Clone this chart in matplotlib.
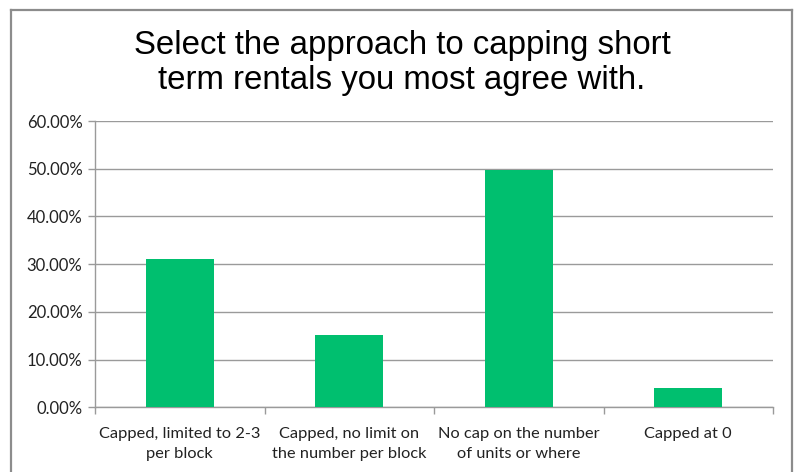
import numpy as np
import matplotlib.pyplot as plt
from matplotlib.lines import Line2D

categories = ["Capped, limited to 2-3\nper block",
              "Capped, no limit on\nthe number per block",
              "No cap on the number\nof units or where",
              "Capped at 0"]
shares = [31.05, 15.1, 49.7, 4.0]
yticks = [0, 10, 20, 30, 40, 50, 60]

W, H = 798, 472
fig = plt.figure(figsize=(W / 100, H / 100), dpi=100)

# chart border (bottom edge runs off the image)
border = [([11, 11], [H + 5, 10]), ([11, 792], [10, 10]), ([792, 792], [10, H + 5])]
for xs, ys in border:
    fig.add_artist(Line2D([x / W for x in xs], [1 - y / H for y in ys],
                          color="#8c8c8c", lw=1.6))

fig.text(402 / W, 1 - 63 / H, "Select the approach to capping short\nterm rentals you most agree with.",
         ha="center", va="center", fontsize=23.8, family="Liberation Sans",
         linespacing=1.2, color="black")

ax = fig.add_axes([95 / W, 1 - 407.3 / H, (773 - 95) / W, (407.3 - 121) / H])
x = np.arange(len(categories))
ax.bar(x, shares, width=0.4, color="#00bf6f", zorder=3)

ax.set_xlim(-0.5, len(categories) - 0.5)
ax.set_ylim(0, 60)
ax.set_yticks(yticks)
ax.set_yticklabels([f"{v:.2f}%" for v in yticks], family="Lato", fontsize=12, color="#222222")
ax.yaxis.grid(True, color="#9a9a9a", lw=1, zorder=0)

ax.set_xticks(np.arange(len(categories) + 1) - 0.5)
ax.set_xticklabels([])
ax.set_xticks(x, minor=True)
ax.set_xticklabels(categories, minor=True, family="Lato", fontsize=11.8, color="#222222",
                   linespacing=1.5)
ax.tick_params(axis="x", which="minor", length=0, pad=14.5)
ax.tick_params(axis="x", which="major", length=5, color="#9a9a9a", width=1)
ax.tick_params(axis="y", length=5, color="#9a9a9a", width=1, pad=4)

for side in ["top", "right"]:
    ax.spines[side].set_visible(False)
for side in ["left", "bottom"]:
    ax.spines[side].set_color("#9a9a9a")
    ax.spines[side].set_linewidth(1)

fig.savefig("out.png", dpi=100)
